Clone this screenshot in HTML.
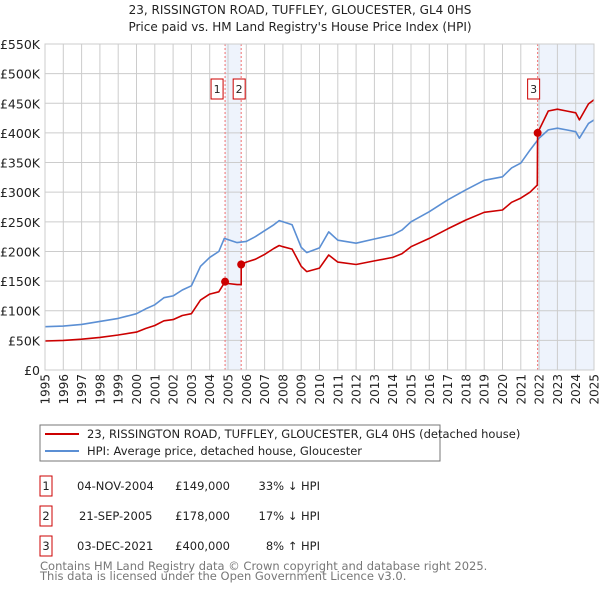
<!DOCTYPE html>
<html><head><meta charset="utf-8"><style>
body{margin:0;background:#fff;}
svg{display:block;font-family:"DejaVu Sans","Liberation Sans",sans-serif;}
</style></head><body>
<svg id="chart" width="600" height="590" viewBox="0 0 600 590">
<text x="300" y="14" text-anchor="middle" font-size="12" fill="#222">23, RISSINGTON ROAD, TUFFLEY, GLOUCESTER, GL4 0HS</text>
<text x="300" y="31" text-anchor="middle" font-size="12" fill="#222">Price paid vs. HM Land Registry's House Price Index (HPI)</text>
<g id="plot"></g>
<rect x="40" y="425" width="400" height="36" fill="#fff" stroke="#777"/>
<line x1="45" y1="434" x2="79" y2="434" stroke="#cc0000" stroke-width="2"/>
<text x="87" y="438" font-size="11.5" fill="#222">23, RISSINGTON ROAD, TUFFLEY, GLOUCESTER, GL4 0HS (detached house)</text>
<line x1="45" y1="451" x2="79" y2="451" stroke="#5b8fd4" stroke-width="2"/>
<text x="87" y="455" font-size="11.5" fill="#222">HPI: Average price, detached house, Gloucester</text>
<g font-size="11.5" fill="#222">
<rect x="40" y="476" width="12" height="20" fill="none" stroke="#cc0000"/><text x="46" y="490" text-anchor="middle">1</text>
<text x="77" y="490">04-NOV-2004</text>
<text x="230" y="490" text-anchor="end">£149,000</text>
<text x="320" y="490" text-anchor="end">33% ↓ HPI</text>
<rect x="40" y="506" width="12" height="20" fill="none" stroke="#cc0000"/><text x="46" y="520" text-anchor="middle">2</text>
<text x="79" y="520">21-SEP-2005</text>
<text x="230" y="520" text-anchor="end">£178,000</text>
<text x="320" y="520" text-anchor="end">17% ↓ HPI</text>
<rect x="40" y="536" width="12" height="20" fill="none" stroke="#cc0000"/><text x="46" y="550" text-anchor="middle">3</text>
<text x="77" y="550">03-DEC-2021</text>
<text x="230" y="550" text-anchor="end">£400,000</text>
<text x="320" y="550" text-anchor="end">8% ↑ HPI</text>
</g>
<text x="40" y="570" font-size="11.5" fill="#777">Contains HM Land Registry data © Crown copyright and database right 2025.</text>
<text x="40" y="580" font-size="11.5" fill="#777">This data is licensed under the Open Government Licence v3.0.</text>
</svg>
<script>
const yTicks=[0,50,100,150,200,250,300,350,400,450,500,550];
const yearTicks=[1995,1996,1997,1998,1999,2000,2001,2002,2003,2004,2005,2006,2007,2008,2009,2010,2011,2012,2013,2014,2015,2016,2017,2018,2019,2020,2021,2022,2023,2024,2025];
const hpiYears=[1995,1996,1997,1998,1999,2000,2000.5,2001,2001.5,2002,2002.5,2003,2003.5,2004,2004.5,2004.8,2005.5,2006,2006.5,2007,2007.5,2007.8,2008,2008.5,2009,2009.3,2010,2010.5,2011,2012,2013,2014,2014.5,2015,2016,2017,2018,2019,2020,2020.5,2021,2021.5,2022,2022.5,2023,2023.5,2024,2024.2,2024.7,2025];
const hpiValues=[73,74,77,82,87,95,103,110,122,125,135,142,175,190,200,222,215,217,225,235,245,252,250,245,207,198,206,233,219,214,221,228,236,250,267,287,304,320,326,341,349,371,391,405,408,405,402,391,416,422];
const priceYears=[1995,1996,1997,1998,1999,2000,2000.5,2001,2001.5,2002,2002.5,2003,2003.5,2004,2004.5,2004.84,2005,2005.5,2005.72,2005.72,2006,2006.5,2007,2007.5,2007.8,2008,2008.5,2009,2009.3,2010,2010.5,2011,2012,2013,2014,2014.5,2015,2016,2017,2018,2019,2020,2020.5,2021,2021.5,2021.9,2021.92,2022,2022.5,2023,2023.5,2024,2024.2,2024.7,2025];
const priceValues=[49,50,52,55,59,64,70,75,83,85,92,95,118,128,132,149,146,144,144,178,182,187,195,205,210,208,204,175,166,172,194,182,178,184,190,196,208,222,238,253,266,270,283,290,300,312,400,405,437,440,437,434,422,449,456];
const saleYears=[2004.84,2005.72,2021.92];
const saleValues=[149,178,400];
const saleLabels=["1","2","3"];
const NS="http://www.w3.org/2000/svg";
const X0=45,X1=594,Y0=370,Y1=44;
function xs(t){return X0+(t-1995)/(2025-1995)*(X1-X0);}
function ys(v){return Y0-v/550*(Y0-Y1);}
const g=document.getElementById('plot');
function mk(tag,attrs){const e=document.createElementNS(NS,tag);for(const k in attrs)e.setAttribute(k,attrs[k]);g.appendChild(e);return e;}
let r=mk('rect',{x:xs(saleYears[0]),y:Y1,width:xs(saleYears[1])-xs(saleYears[0]),height:Y0-Y1,fill:'#eef3fc'});


r=mk('rect',{x:xs(saleYears[2]),y:Y1,width:X1-xs(saleYears[2]),height:Y0-Y1,fill:'#eef3fc'});


yTicks.forEach(v=>{
 const l=mk('line',{x1:X0,x2:X1,y1:ys(v),y2:ys(v),stroke:'#ccc','stroke-width':1});
 
 
 const t=mk('text',{x:40,y:ys(v)+5,'text-anchor':'end','font-size':12.5,fill:'#222'});
 t.textContent=v===0?'£0':'£'+v+'K';
 
 
});
yearTicks.forEach(y=>{
 const l=mk('line',{x1:xs(y),x2:xs(y),y1:Y1,y2:Y0,stroke:'#ccc','stroke-width':1});
 
 
 const tx=xs(y)+4.5;
 const t=mk('text',{x:tx,y:374,'text-anchor':'end','font-size':12,fill:'#222',transform:'rotate(-90 '+tx+' 374)'});
 t.textContent=y;
 
 
});
saleYears.forEach(s=>{
 const l=mk('line',{x1:xs(s),x2:xs(s),y1:Y1,y2:Y0,stroke:'#f07070','stroke-width':1,'stroke-dasharray':'2,2'});
 
 
});
function path(xsArr,vs,color,name){
 const d=xsArr.map((t,i)=>(i?'L':'M')+xs(t).toFixed(1)+','+ys(vs[i]).toFixed(1)).join('');
 const p=mk('path',{d:d,fill:'none',stroke:color,'stroke-width':1.6,'stroke-linejoin':'round'});
 
 
}
path(hpiYears,hpiValues,'#5b8fd4','hpi-line');
path(priceYears,priceValues,'#cc0000','price-line');
saleYears.forEach((s,i)=>{
 const c=mk('circle',{cx:xs(s),cy:ys(saleValues[i]),r:4,fill:'#cc0000'});
 
 
 const bx=i===0?xs(s)-14:(i===1?xs(s)-8:xs(s)-10);
 const b=mk('rect',{x:bx,y:79,width:12,height:20,fill:'#fff',stroke:'#cc0000'});
 
 
 const t=mk('text',{x:bx+6,y:93,'text-anchor':'middle','font-size':11,fill:'#222'});
 t.textContent=saleLabels[i];
 
 
});
const fr=mk('rect',{x:X0,y:Y1,width:X1-X0,height:Y0-Y1,fill:'none',stroke:'#ccc'});


</script>
</body></html>
